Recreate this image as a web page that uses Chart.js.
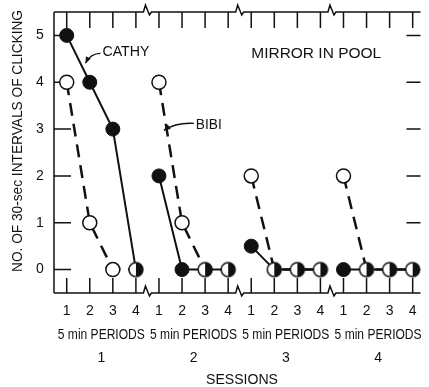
<!DOCTYPE html>
<html>
<head>
<meta charset="utf-8">
<script src="https://cdn.jsdelivr.net/npm/chart.js@4"></script>
<style>
    html, body { margin: 0; padding: 0; background: #fff; }
    #wrap { width: 429px; height: 387px; position: relative; }
</style>
</head>
<body>
<div id="wrap"><canvas id="chart"></canvas></div>
<script>
// data
const sessions = ['1', '2', '3', '4'];
const periods = ['1', '2', '3', '4'];
const yTicks = [0, 1, 2, 3, 4, 5];
const cathy = [5, 4, 3, 0, 2, 0, 0, 0, 0.5, 0, 0, 0, 0, 0, 0, 0];
const bibi = [4, 1, 0, 0, 4, 1, 0, 0, 2, 0, 0, 0, 2, 0, 0, 0];

const FONT = '"Liberation Sans", Arial, sans-serif';
const INK = '#111';

// one point per period, a null between sessions so lines break
function toPoints(vals) {
    const pts = [];
    vals.forEach((v, i) => {
        pts.push({x: i, y: v});
        if (i % periods.length === periods.length - 1 && i < vals.length - 1) {
            pts.push({x: i + 0.5, y: null});
        }
    });
    return pts;
}

// both subjects at same value -> half filled marker
const shared = cathy.map((v, i) => v === bibi[i] ? {x: i, y: v} : null).filter(p => p);
const isShared = (p) => p && shared.some(s => s.x === p.x);

function halfDot(r) {
    const c = document.createElement('canvas');
    const s = 2 * r + 4;
    c.width = s; c.height = s;
    const g = c.getContext('2d');
    const m = s / 2;
    g.fillStyle = '#fff';
    g.beginPath(); g.arc(m, m, r, 0, Math.PI * 2); g.fill();
    g.fillStyle = INK;
    g.beginPath(); g.moveTo(m, m); g.arc(m, m, r, -Math.PI / 2, Math.PI / 2); g.closePath(); g.fill();
    g.strokeStyle = INK; g.lineWidth = 1.5;
    g.beginPath(); g.arc(m, m, r, 0, Math.PI * 2); g.stroke();
    return c;
}

// text squeezed/stretched to the width it has in the figure
function fitText(ctx, text, x, y, w, align) {
    const m = ctx.measureText(text).width;
    const k = w / m;
    ctx.save();
    ctx.translate(x, y);
    ctx.scale(k, 1);
    ctx.textAlign = align || 'center';
    ctx.fillText(text, 0, 0);
    ctx.restore();
}

function arrow(ctx, x0, y0, cx, cy, x1, y1) {
    ctx.beginPath();
    ctx.moveTo(x0, y0);
    ctx.quadraticCurveTo(cx, cy, x1, y1);
    ctx.stroke();
    const a = Math.atan2(y1 - cy, x1 - cx);
    ctx.beginPath();
    ctx.moveTo(x1, y1);
    ctx.lineTo(x1 - 7 * Math.cos(a - 0.4), y1 - 7 * Math.sin(a - 0.4));
    ctx.lineTo(x1 - 7 * Math.cos(a + 0.4), y1 - 7 * Math.sin(a + 0.4));
    ctx.closePath();
    ctx.fill();
}

// axes with break marks, ticks and all texts
const frame = {
    id: 'frame',
    beforeDatasetsDraw(chart) {
        const {ctx, chartArea: a, scales: {x, y}} = chart;
        const n = cathy.length;
        const breaks = [];
        for (let s = 1; s < sessions.length; s++) breaks.push(x.getPixelForValue(s * periods.length - 0.5));

        ctx.save();
        ctx.strokeStyle = INK;
        ctx.fillStyle = INK;
        ctx.lineWidth = 1.5;

        const hLine = (yy) => {
            ctx.beginPath();
            ctx.moveTo(a.left, yy);
            breaks.forEach(bx => {
                ctx.lineTo(bx - 4, yy);
                ctx.lineTo(bx - 2, yy - 7);
                ctx.lineTo(bx + 2, yy + 3);
                ctx.lineTo(bx + 4, yy);
            });
            ctx.lineTo(a.right, yy);
            ctx.stroke();
        };
        hLine(a.top);
        hLine(a.bottom);

        ctx.beginPath();
        ctx.moveTo(a.left, a.top);
        ctx.lineTo(a.left, a.bottom);
        ctx.stroke();

        ctx.beginPath();
        for (let i = 0; i < n; i++) {
            const px = x.getPixelForValue(i);
            ctx.moveTo(px, a.top); ctx.lineTo(px, a.top + 16);
            ctx.moveTo(px, a.bottom); ctx.lineTo(px, a.bottom - 15);
        }
        yTicks.forEach(v => {
            const py = y.getPixelForValue(v);
            ctx.moveTo(a.left, py); ctx.lineTo(a.left + 17, py);
            ctx.moveTo(a.right, py); ctx.lineTo(a.right - 14, py);
        });
        ctx.stroke();

        // y tick labels
        ctx.font = '14px ' + FONT;
        ctx.textAlign = 'center';
        ctx.textBaseline = 'middle';
        yTicks.forEach(v => ctx.fillText(String(v), 40, y.getPixelForValue(v)));

        // x tick labels, period captions, session numbers
        for (let i = 0; i < n; i++) {
            ctx.fillText(periods[i % periods.length], x.getPixelForValue(i), 311);
        }
        sessions.forEach((s, k) => {
            const cx = x.getPixelForValue(k * periods.length + (periods.length - 1) / 2);
            ctx.font = '14px ' + FONT;
            fitText(ctx, '5 min PERIODS', cx, 335, 87);
            ctx.fillText(s, cx, 358);
        });
        fitText(ctx, 'SESSIONS', 242, 380, 72);

        // y title
        ctx.save();
        ctx.translate(18, 141);
        ctx.rotate(-Math.PI / 2);
        ctx.font = '15px ' + FONT;
        fitText(ctx, 'NO. OF 30-sec INTERVALS OF CLICKING', 0, 0, 262);
        ctx.restore();

        // annotations
        ctx.font = '15px ' + FONT;
        fitText(ctx, 'MIRROR IN POOL', x.getPixelForValue(8.0), y.getPixelForValue(4.61), 130, 'left');
        ctx.font = '14px ' + FONT;
        const cX = x.getPixelForValue(1.55), cY = y.getPixelForValue(4.64);
        fitText(ctx, 'CATHY', cX, cY, 47, 'left');
        const bX = x.getPixelForValue(5.6), bY = y.getPixelForValue(3.08);
        fitText(ctx, 'BIBI', bX, bY, 26, 'left');
        ctx.lineWidth = 1.3;
        arrow(ctx, cX - 2, cY + 1, cX - 12, cY + 1, cX - 17, cY + 11);
        arrow(ctx, bX - 2, bY - 2, bX - 20, bY - 3, bX - 32, bY + 5);
        ctx.restore();
    }
};

const dotR = 7;
new Chart(document.getElementById('chart'), {
    type: 'line',
    data: {
        datasets: [{
            label: 'shared',
            data: shared,
            showLine: false,
            pointStyle: halfDot(dotR),
            order: 0
        }, {
            label: 'CATHY',
            data: toPoints(cathy),
            borderColor: INK,
            borderWidth: 2,
            backgroundColor: INK,
            pointBackgroundColor: INK,
            pointBorderColor: INK,
            pointBorderWidth: 1,
            pointRadius: (c) => isShared(c.raw) ? 0 : dotR,
            spanGaps: false,
            order: 2
        }, {
            label: 'BIBI',
            data: toPoints(bibi),
            borderColor: INK,
            borderWidth: 2.5,
            borderDash: [13, 8],
            pointBackgroundColor: '#fff',
            pointBorderColor: INK,
            pointBorderWidth: 1.5,
            pointRadius: (c) => isShared(c.raw) ? 0 : dotR,
            spanGaps: false,
            order: 1
        }]
    },
    options: {
        responsive: true,
        maintainAspectRatio: false,
        animation: false,
        events: [],
        layout: {padding: {left: 54, top: 12, right: 0, bottom: 94}},
        plugins: {legend: {display: false}, tooltip: {enabled: false}},
        scales: {
            x: {type: 'linear', min: -0.551, max: 15.339, display: false},
            y: {min: -0.5, max: 5.5, display: false}
        }
    },
    plugins: [frame]
});
</script>
</body>
</html>
